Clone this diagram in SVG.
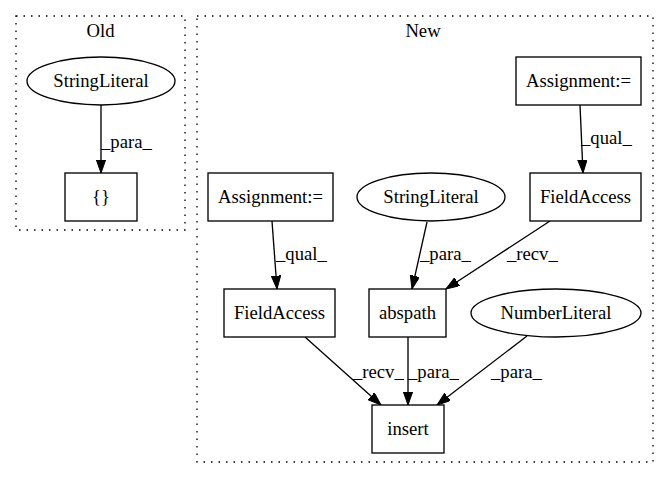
<svg xmlns="http://www.w3.org/2000/svg" width="668" height="480" viewBox="0 0 668 480" font-family="'Liberation Serif', 'Times New Roman', 'DejaVu Serif', serif">
<style>
text{font-family:'Liberation Serif','Times New Roman','DejaVu Serif',serif;font-size:18.67px;fill:#000}
.n{text-anchor:middle}
.box,.ell{fill:#fff;stroke:#000;stroke-width:1.33}
.cl{fill:none;stroke:#000;stroke-width:1.33;stroke-dasharray:1.5,6}
.e{stroke:#000;stroke-width:1.33;fill:none;marker-end:url(#ah)}
</style>
<defs>
<marker id="ah" markerUnits="userSpaceOnUse" markerWidth="14" markerHeight="10" refX="13.3" refY="4.7" orient="auto">
<path d="M0,0 L13.3,4.7 L0,9.4 z" fill="#000" stroke="#000" stroke-width="1"/>
</marker>
</defs>
<rect width="668" height="480" fill="#fff"/>
<g id="cluster_old">
<rect class="cl" x="16" y="16" width="169" height="214"/>
<text class="n" x="100.5" y="37">Old</text>
</g>
<g id="cluster_new">
<rect class="cl" x="197" y="16" width="456" height="446"/>
<text class="n" x="423" y="37">New</text>
</g>
<g id="connectors">
<line class="e" x1="101" y1="105" x2="101" y2="173"/>
<text x="101" y="148">_para_</text>
<line class="e" x1="580" y1="105" x2="583" y2="173"/>
<text x="581" y="144">_qual_</text>
<line class="e" x1="272" y1="221" x2="277" y2="289"/>
<text x="276" y="260">_qual_</text>
<line class="e" x1="427" y1="222" x2="412" y2="289"/>
<text x="420" y="260">_para_</text>
<line class="e" x1="550" y1="221" x2="446" y2="289"/>
<text x="507" y="260">_recv_</text>
<line class="e" x1="305" y1="337" x2="381" y2="405"/>
<text x="353" y="378">_recv_</text>
<line class="e" x1="408" y1="337" x2="408" y2="405"/>
<text x="408" y="378">_para_</text>
<line class="e" x1="527" y1="336" x2="437" y2="405"/>
<text x="491" y="378">_para_</text>
</g>
<g id="old_stringliteral">
<ellipse class="ell" cx="101" cy="81" rx="74" ry="24"/>
<text class="n" x="101" y="87">StringLiteral</text>
</g>
<g id="old_braces">
<rect class="box" x="65" y="173" width="72" height="48"/>
<text class="n" x="101" y="203">{}</text>
</g>
<g id="assign_right">
<rect class="box" x="516" y="57" width="125" height="48"/>
<text class="n" x="578.5" y="87">Assignment:=</text>
</g>
<g id="fieldaccess_right">
<rect class="box" x="530" y="173" width="111" height="48"/>
<text class="n" x="585.5" y="203">FieldAccess</text>
</g>
<g id="assign_left">
<rect class="box" x="208" y="173" width="125" height="48"/>
<text class="n" x="270.5" y="203">Assignment:=</text>
</g>
<g id="new_stringliteral">
<ellipse class="ell" cx="431" cy="197" rx="74" ry="24"/>
<text class="n" x="431" y="203">StringLiteral</text>
</g>
<g id="fieldaccess_left">
<rect class="box" x="224" y="289" width="111" height="48"/>
<text class="n" x="279.5" y="319">FieldAccess</text>
</g>
<g id="abspath">
<rect class="box" x="369" y="289" width="77" height="48"/>
<text class="n" x="407.5" y="319">abspath</text>
</g>
<g id="numberliteral">
<ellipse class="ell" cx="556" cy="313" rx="85" ry="24"/>
<text class="n" x="556" y="319">NumberLiteral</text>
</g>
<g id="insert">
<rect class="box" x="372" y="405" width="72" height="48"/>
<text class="n" x="408" y="435">insert</text>
</g>
</svg>
